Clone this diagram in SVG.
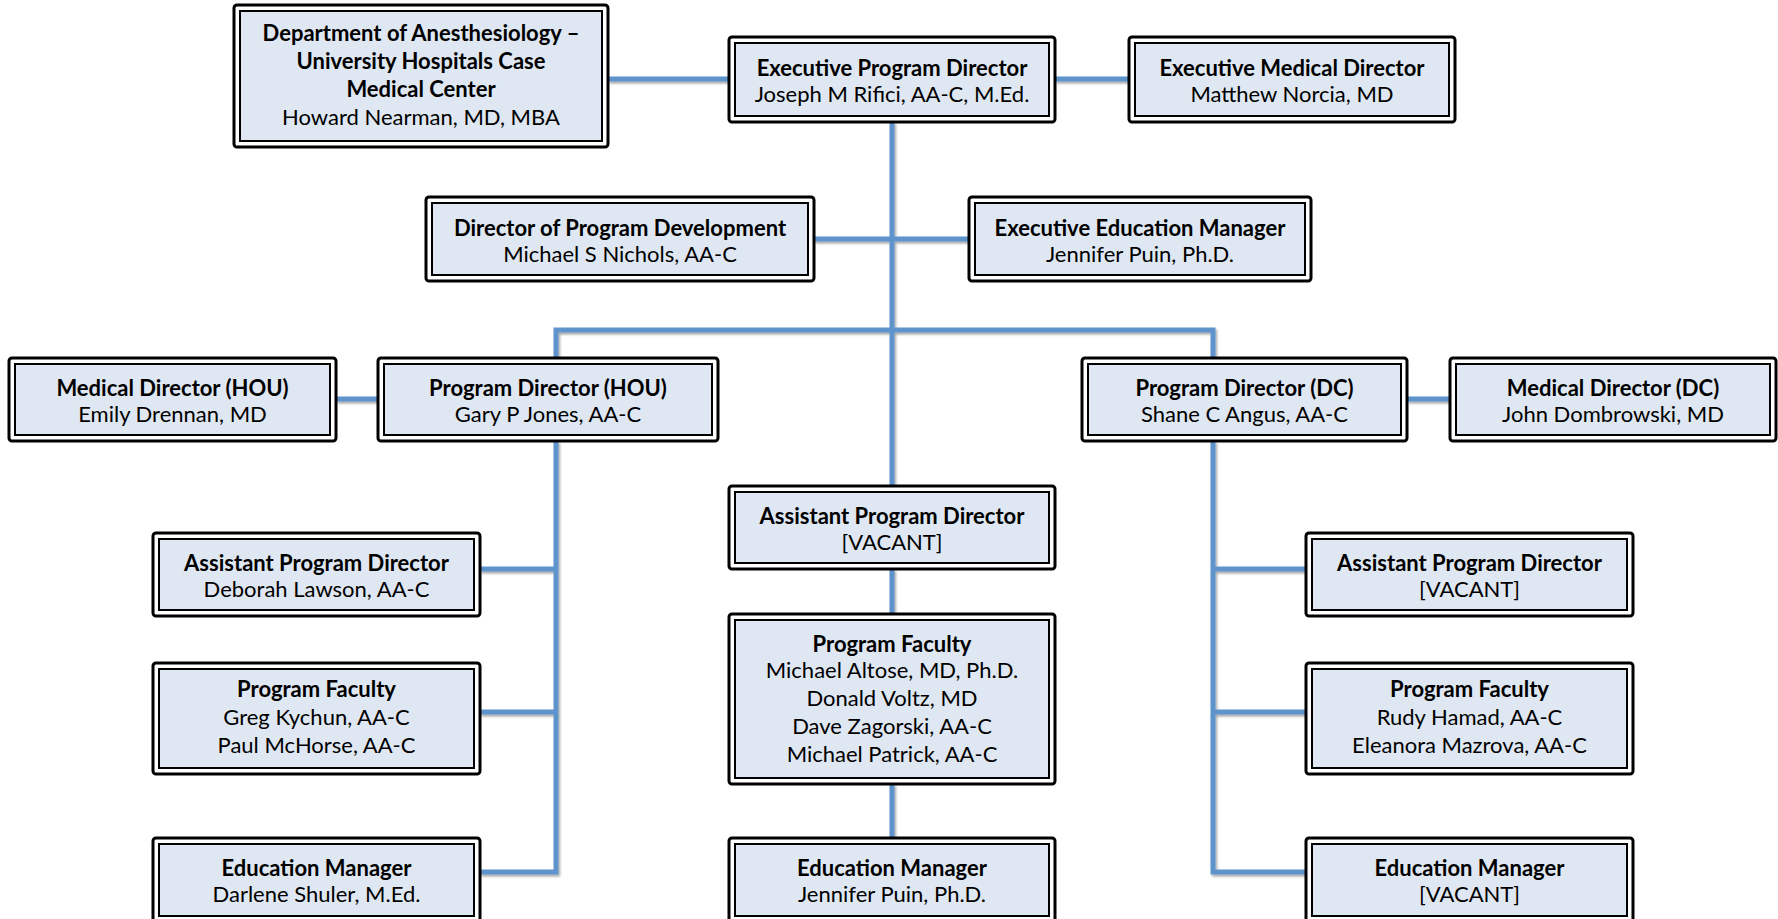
<svg xmlns="http://www.w3.org/2000/svg" width="1778" height="919" viewBox="0 0 1778 919">
<defs>
<style>
.o{fill:#fff;stroke:#000;stroke-width:3}
.i{fill:#dfe7f2;stroke:#000;stroke-width:2}
text{font-family:Lato,"Open Sans",sans-serif;font-size:22px;text-anchor:middle;fill:#000}
.b{font-weight:bold}
.c{fill:none;stroke:#5f93cc;stroke-width:5;stroke-linecap:butt}
</style>
<filter id="sh" x="-5%" y="-5%" width="110%" height="110%">
<feDropShadow dx="1.5" dy="2" stdDeviation="1" flood-color="#000" flood-opacity="0.35"/>
</filter>
</defs>
<rect width="1778" height="919" fill="#fff"/>
<g id="connectors" filter="url(#sh)">
<path class="c" d="M608 79H729"/>
<path class="c" d="M1055 79H1129"/>
<path class="c" d="M892 122V486"/>
<path class="c" d="M814 239H969"/>
<path class="c" d="M556 358V330H1213V358"/>
<path class="c" d="M336 399H378"/>
<path class="c" d="M1407 399H1450"/>
<path class="c" d="M556 441V872H480M556 569H480M556 712H480"/>
<path class="c" d="M1213 441V872H1306M1213 569H1306M1213 712H1306"/>
<path class="c" d="M892 569V614"/>
<path class="c" d="M892 784V838"/>
</g>
<g id="dept">
<rect class="o" x="234" y="5" width="374" height="142" rx="3"/>
<rect class="i" x="240" y="11" width="362" height="130"/>
<text class="b" x="421" y="41">Department of Anesthesiology –</text>
<text class="b" x="421" y="69">University Hospitals Case</text>
<text class="b" x="421" y="97">Medical Center</text>
<text x="421" y="125">Howard Nearman, MD, MBA</text>
</g>
<g id="exec-program-director">
<rect class="o" x="729" y="37" width="326" height="85" rx="3"/>
<rect class="i" x="735" y="43" width="314" height="73"/>
<text class="b" x="892" y="76">Executive Program Director</text>
<text x="892" y="102">Joseph M Rifici, AA-C, M.Ed.</text>
</g>
<g id="exec-medical-director">
<rect class="o" x="1129" y="37" width="326" height="85" rx="3"/>
<rect class="i" x="1135" y="43" width="314" height="73"/>
<text class="b" x="1292" y="76">Executive Medical Director</text>
<text x="1292" y="102">Matthew Norcia, MD</text>
</g>
<g id="director-program-development">
<rect class="o" x="426" y="197" width="388" height="84" rx="3"/>
<rect class="i" x="432" y="203" width="376" height="72"/>
<text class="b" x="620" y="236">Director of Program Development</text>
<text x="620" y="262">Michael S Nichols, AA-C</text>
</g>
<g id="exec-education-manager">
<rect class="o" x="969" y="197" width="342" height="84" rx="3"/>
<rect class="i" x="975" y="203" width="330" height="72"/>
<text class="b" x="1140" y="236">Executive Education Manager</text>
<text x="1140" y="262">Jennifer Puin, Ph.D.</text>
</g>
<g id="medical-director-hou">
<rect class="o" x="9" y="358" width="327" height="83" rx="3"/>
<rect class="i" x="15" y="364" width="315" height="71"/>
<text class="b" x="172.5" y="396">Medical Director (HOU)</text>
<text x="172.5" y="422">Emily Drennan, MD</text>
</g>
<g id="program-director-hou">
<rect class="o" x="378" y="358" width="340" height="83" rx="3"/>
<rect class="i" x="384" y="364" width="328" height="71"/>
<text class="b" x="548" y="396">Program Director (HOU)</text>
<text x="548" y="422">Gary P Jones, AA-C</text>
</g>
<g id="program-director-dc">
<rect class="o" x="1082" y="358" width="325" height="83" rx="3"/>
<rect class="i" x="1088" y="364" width="313" height="71"/>
<text class="b" x="1244.5" y="396">Program Director (DC)</text>
<text x="1244.5" y="422">Shane C Angus, AA-C</text>
</g>
<g id="medical-director-dc">
<rect class="o" x="1450" y="358" width="326" height="83" rx="3"/>
<rect class="i" x="1456" y="364" width="314" height="71"/>
<text class="b" x="1613" y="396">Medical Director (DC)</text>
<text x="1613" y="422">John Dombrowski, MD</text>
</g>
<g id="assistant-program-director-center">
<rect class="o" x="729" y="486" width="326" height="83" rx="3"/>
<rect class="i" x="735" y="492" width="314" height="71"/>
<text class="b" x="892" y="524">Assistant Program Director</text>
<text x="892" y="550">[VACANT]</text>
</g>
<g id="assistant-program-director-hou">
<rect class="o" x="153" y="533" width="327" height="83" rx="3"/>
<rect class="i" x="159" y="539" width="315" height="71"/>
<text class="b" x="316.5" y="571">Assistant Program Director</text>
<text x="316.5" y="597">Deborah Lawson, AA-C</text>
</g>
<g id="assistant-program-director-dc">
<rect class="o" x="1306" y="533" width="327" height="83" rx="3"/>
<rect class="i" x="1312" y="539" width="315" height="71"/>
<text class="b" x="1469.5" y="571">Assistant Program Director</text>
<text x="1469.5" y="597">[VACANT]</text>
</g>
<g id="program-faculty-hou">
<rect class="o" x="153" y="663" width="327" height="111" rx="3"/>
<rect class="i" x="159" y="669" width="315" height="99"/>
<text class="b" x="316.5" y="697">Program Faculty</text>
<text x="316.5" y="725">Greg Kychun, AA-C</text>
<text x="316.5" y="753">Paul McHorse, AA-C</text>
</g>
<g id="program-faculty-center">
<rect class="o" x="729" y="614" width="326" height="170" rx="3"/>
<rect class="i" x="735" y="620" width="314" height="158"/>
<text class="b" x="892" y="652">Program Faculty</text>
<text x="892" y="678">Michael Altose, MD, Ph.D.</text>
<text x="892" y="706">Donald Voltz, MD</text>
<text x="892" y="734">Dave Zagorski, AA-C</text>
<text x="892" y="762">Michael Patrick, AA-C</text>
</g>
<g id="program-faculty-dc">
<rect class="o" x="1306" y="663" width="327" height="111" rx="3"/>
<rect class="i" x="1312" y="669" width="315" height="99"/>
<text class="b" x="1469.5" y="697">Program Faculty</text>
<text x="1469.5" y="725">Rudy Hamad, AA-C</text>
<text x="1469.5" y="753">Eleanora Mazrova, AA-C</text>
</g>
<g id="education-manager-hou">
<rect class="o" x="153" y="838" width="327" height="84" rx="3"/>
<rect class="i" x="159" y="844" width="315" height="72"/>
<text class="b" x="316.5" y="876">Education Manager</text>
<text x="316.5" y="902">Darlene Shuler, M.Ed.</text>
</g>
<g id="education-manager-center">
<rect class="o" x="729" y="838" width="326" height="84" rx="3"/>
<rect class="i" x="735" y="844" width="314" height="72"/>
<text class="b" x="892" y="876">Education Manager</text>
<text x="892" y="902">Jennifer Puin, Ph.D.</text>
</g>
<g id="education-manager-dc">
<rect class="o" x="1306" y="838" width="327" height="84" rx="3"/>
<rect class="i" x="1312" y="844" width="315" height="72"/>
<text class="b" x="1469.5" y="876">Education Manager</text>
<text x="1469.5" y="902">[VACANT]</text>
</g>
</svg>
